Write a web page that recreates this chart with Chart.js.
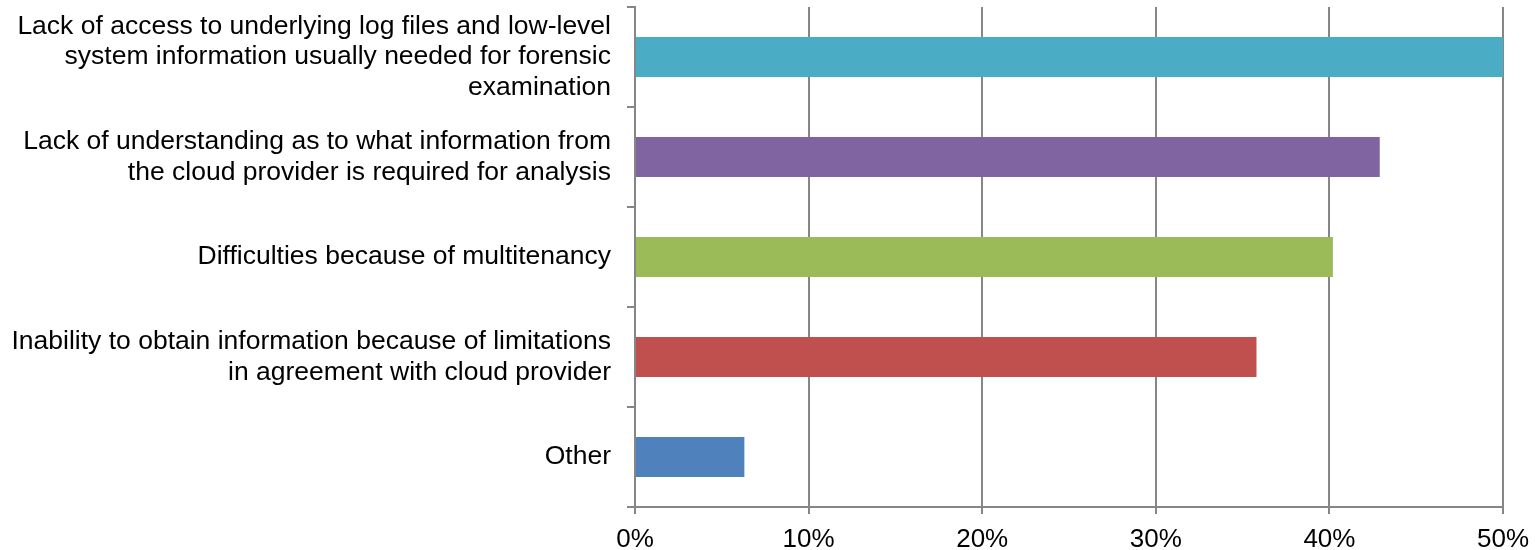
<!DOCTYPE html>
<html>
<head>
<meta charset="utf-8">
<script src="https://cdn.jsdelivr.net/npm/chart.js@4/dist/chart.umd.min.js"></script>
<style>
  html, body { margin: 0; padding: 0; background: #fff; }
  #wrap { width: 1535px; height: 550px; position: relative; }
</style>
</head>
<body>
<div id="wrap"><canvas id="c"></canvas></div>
<script>
// Survey answers: obstacles to forensic investigation in the cloud
const categories = [
  ["Lack of access to underlying log files and low-level", "system information usually needed for forensic", "examination"],
  ["Lack of understanding as to what information from", "the cloud provider is required for analysis"],
  ["Difficulties because of multitenancy"],
  ["Inability to obtain information because of limitations", "in agreement with cloud provider"],
  ["Other"]
];
const shares = [50.2, 42.9, 40.2, 35.8, 6.3];
const barColors = ["#4BACC6", "#8064A2", "#9BBB59", "#C0504D", "#4F81BD"];
const xTicks = [0, 10, 20, 30, 40, 50];

const family = "'Liberation Sans', Arial, sans-serif";

new Chart(document.getElementById("c"), {
  type: "bar",
  data: {
    labels: categories,
    datasets: [{
      data: shares,
      backgroundColor: barColors,
      borderWidth: 0,
      barPercentage: 0.4,
      categoryPercentage: 1.0
    }]
  },
  options: {
    indexAxis: "y",
    responsive: true,
    maintainAspectRatio: false,
    animation: false,
    layout: { padding: { top: 7, right: 32, bottom: 0, left: 0 } },
    plugins: { legend: { display: false }, tooltip: { enabled: false } },
    scales: {
      x: {
        min: 0,
        max: 50,
        afterBuildTicks: (scale) => { scale.ticks = xTicks.map(v => ({ value: v })); },
        afterFit: (scale) => {
          scale.height = 43;
          scale.paddingLeft = 0;
          scale.paddingRight = 0;
        },
        ticks: {
          color: "#000",
          font: { family: family, size: 26 },
          padding: 10,
          maxRotation: 0,
          callback: (v) => v + "%"
        },
        grid: {
          color: "#868686",
          lineWidth: 2,
          drawTicks: true,
          tickLength: 7,
          tickColor: "#868686"
        },
        border: { display: true, color: "#868686", width: 2 }
      },
      y: {
        afterFit: (scale) => {
          // fixed axis width; labels may overhang the plot edges
          scale.width = 635;
          scale.paddingTop = 0;
          scale.paddingBottom = 0;
        },
        ticks: {
          color: "#000",
          font: { family: family, size: 26.5, lineHeight: 1.16 },
          padding: 16
        },
        grid: {
          offset: true,
          drawOnChartArea: false,
          drawTicks: true,
          tickLength: 8,
          color: "#868686",
          lineWidth: 2
        },
        border: { display: true, color: "#868686", width: 2 }
      }
    }
  }
});
</script>
</body>
</html>
